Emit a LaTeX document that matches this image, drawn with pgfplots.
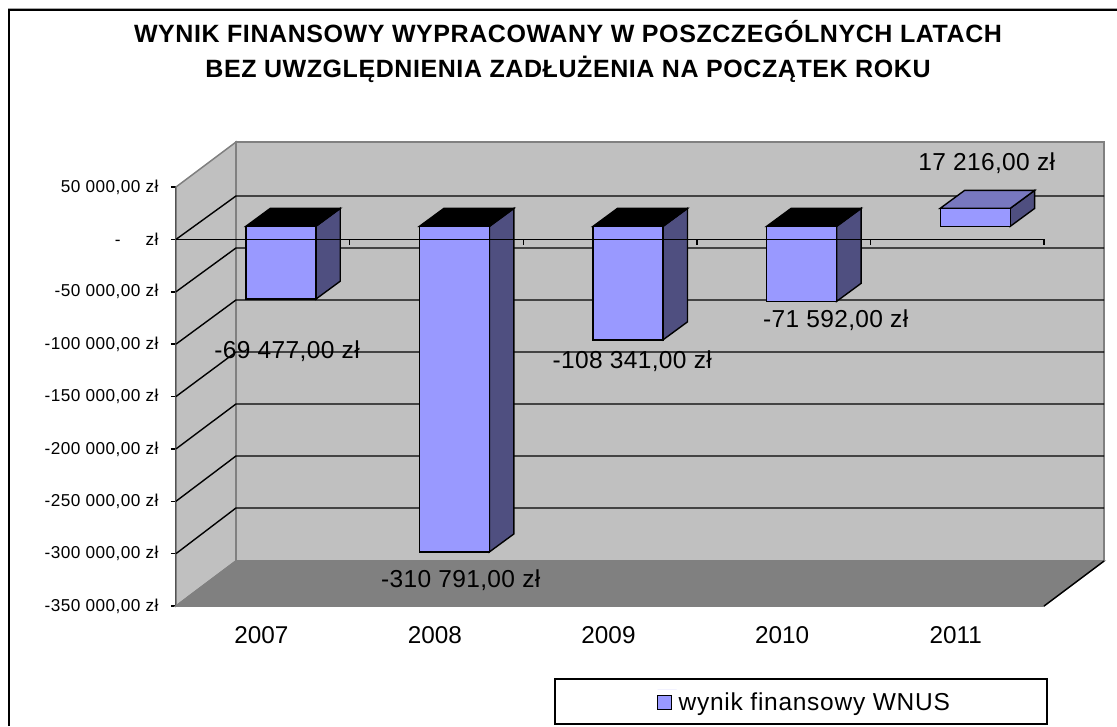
\documentclass[border=0pt]{standalone}
\usepackage{pgfplots}
\pgfplotsset{compat=1.18}
\usepackage{fontspec}
\setmainfont{Liberation Sans}
\newfontfamily\titf[LetterSpace=2.3]{Liberation Sans}
\newfontfamily\labf[LetterSpace=1.5]{Liberation Sans}
\newfontfamily\legf[LetterSpace=3]{Liberation Sans}
\newfontfamily\tickf[LetterSpace=2.5]{Liberation Sans}
\definecolor{wall}{HTML}{C0C0C0}
\definecolor{floorc}{HTML}{808080}
\definecolor{front}{HTML}{9999FF}
\definecolor{sidec}{HTML}{4F4F80}
\definecolor{topc}{HTML}{7878BF}
\newcommand{\fs}[1]{\fontsize{#1}{#1}\selectfont}
\begin{document}
\begin{tikzpicture}[x=1pt,y=1pt]
\path[use as bounding box] (0,0) rectangle (1117,726);
\draw[line width=0.6pt,black!35] (8,717.2) -- (1117,717.2);
\draw[line width=2pt,black] (9,0) -- (9,716) -- (1117,716);
\node[font=\titf\fs{25}\bfseries,anchor=base] at (568,683.5) {WYNIK FINANSOWY WYPRACOWANY W POSZCZEGÓLNYCH LATACH};
\node[font=\titf\fs{25}\bfseries,anchor=base] at (568,648) {BEZ UWZGLĘDNIENIA ZADŁUŻENIA NA POCZĄTEK ROKU};
\draw[line width=1.6pt,black,fill=white] (555,2) rectangle (1047,47);
\begin{axis}[
  at={(176pt,120pt)},anchor=south west,
  scale only axis,width=868pt,height=419pt,
  xmin=-0.5,xmax=4.5,ymin=-350000,ymax=50000,
  clip=false,
  scaled y ticks=false,
  axis x line=bottom,axis y line=left,
  axis line style={-,line width=1.5pt,black},
  xtick={0,1,2,3,4},xticklabels={2007,2008,2009,2010,2011},
  extra x ticks={-0.5,0.5,1.5,2.5,3.5,4.5},
  extra x tick labels={},
  extra x tick style={major tick length=5pt,tick style={line width=1.5pt,black},tick align=outside},
  major x tick style={draw=none},
  xticklabel style={font=\fs{24.3},yshift=-12pt,xshift=-1.5pt},
  ytick={-350000,-300000,-250000,-200000,-150000,-100000,-50000,0,50000},
  yticklabels={{-350 000,00 zł},{-300 000,00 zł},{-250 000,00 zł},{-200 000,00 zł},{-150 000,00 zł},{-100 000,00 zł},{-50 000,00 zł},{-\hspace{25pt}zł},{50 000,00 zł}},
  yticklabel style={font=\tickf\fs{17.2},xshift=-9pt},
  ytick style={line width=1.5pt,black},
  tick align=outside,
  major tick length=5pt,
  legend image code/.code={\path[draw=none] (0,0) -- (19pt,0); \draw[draw=black,fill=front,line width=1.3pt] (0,-20pt) rectangle (14pt,-6pt);},
  legend style={at={(628.5pt,-95.5pt)},anchor=center,draw=none,fill=none,
    font=\legf\fs{24.5},legend cell align=left},
]
% walls and floor
\addplot[forget plot,fill=wall,draw=floorc,line width=1.5pt] coordinates {(-0.1544,92959) (4.8456,92959) (4.8456,-307041) (-0.1544,-307041)} --cycle;
\addplot[forget plot,fill=wall,draw=floorc,line width=1.5pt] coordinates {(-0.5,50000) (-0.1544,92959) (-0.1544,-307041) (-0.5,-350000)} --cycle;
\addplot[forget plot,fill=floorc,draw=floorc,line width=1.5pt] coordinates {(-0.5,-350000) (-0.1544,-307041) (4.8456,-307041) (4.5,-350000)} --cycle;
\addplot[forget plot,black,line width=1.4pt] coordinates {(4.5,-350000) (4.8456,-307041)};
% gridlines
\addplot[forget plot,black,line width=1.4pt] coordinates {(-0.5,0) (-0.1544,41432) (4.8456,41432)};
\addplot[forget plot,black,line width=1.4pt] coordinates {(-0.5,-50000) (-0.1544,-8210) (4.8456,-8210)};
\addplot[forget plot,black,line width=1.4pt] coordinates {(-0.5,-100000) (-0.1544,-57852) (4.8456,-57852)};
\addplot[forget plot,black,line width=1.4pt] coordinates {(-0.5,-150000) (-0.1544,-107494) (4.8456,-107494)};
\addplot[forget plot,black,line width=1.4pt] coordinates {(-0.5,-200000) (-0.1544,-157136) (4.8456,-157136)};
\addplot[forget plot,black,line width=1.4pt] coordinates {(-0.5,-250000) (-0.1544,-206778) (4.8456,-206778)};
\addplot[forget plot,black,line width=1.4pt] coordinates {(-0.5,-300000) (-0.1544,-256420) (4.8456,-256420)};
% bar sides and tops
\addplot[forget plot,fill=sidec,draw=black,line width=1.4pt,xshift=18pt,yshift=13pt] coordinates {(0.2016,0) (0.3427,17184) (0.3427,-52293) (0.2016,-69477)} --cycle;
\addplot[forget plot,fill=black,draw=black,line width=1.4pt,xshift=18pt,yshift=13pt] coordinates {(-0.2016,0) (-0.0605,17184) (0.3427,17184) (0.2016,0)} --cycle;
\addplot[forget plot,fill=sidec,draw=black,line width=1.4pt,xshift=18pt,yshift=13pt] coordinates {(1.2016,0) (1.3427,17184) (1.3427,-293607) (1.2016,-310791)} --cycle;
\addplot[forget plot,fill=black,draw=black,line width=1.4pt,xshift=18pt,yshift=13pt] coordinates {(0.7984,0) (0.9395,17184) (1.3427,17184) (1.2016,0)} --cycle;
\addplot[forget plot,fill=sidec,draw=black,line width=1.4pt,xshift=18pt,yshift=13pt] coordinates {(2.2016,0) (2.3427,17184) (2.3427,-91157) (2.2016,-108341)} --cycle;
\addplot[forget plot,fill=black,draw=black,line width=1.4pt,xshift=18pt,yshift=13pt] coordinates {(1.7984,0) (1.9395,17184) (2.3427,17184) (2.2016,0)} --cycle;
\addplot[forget plot,fill=sidec,draw=black,line width=1.4pt,xshift=18pt,yshift=13pt] coordinates {(3.2016,0) (3.3427,17184) (3.3427,-54408) (3.2016,-71592)} --cycle;
\addplot[forget plot,fill=black,draw=black,line width=1.4pt,xshift=18pt,yshift=13pt] coordinates {(2.7984,0) (2.9395,17184) (3.3427,17184) (3.2016,0)} --cycle;
\addplot[forget plot,fill=sidec,draw=black,line width=1.4pt,xshift=18pt,yshift=13pt] coordinates {(4.2016,0) (4.3427,17184) (4.3427,34400) (4.2016,17216)} --cycle;
\addplot[forget plot,fill=topc,draw=black,line width=1.4pt,xshift=18pt,yshift=13pt] coordinates {(3.7984,17216) (3.9395,34400) (4.3427,34400) (4.2016,17216)} --cycle;
% bar fronts
\addplot[ybar,bar width=70pt,bar shift=0pt,fill=front,draw=black,line width=1.4pt,xshift=18pt,yshift=13pt] coordinates {(0,-69477) (1,-310791) (2,-108341) (3,-71592) (4,17216)};
\addlegendentry{wynik finansowy WNUS}
% zero line with ticks
\addplot[forget plot,black,line width=1.4pt] coordinates {(-0.5,0) (4.5,0)};
\addplot[forget plot,black,line width=1.4pt] coordinates {(0.5,0) (0.5,-5000)};
\addplot[forget plot,black,line width=1.4pt] coordinates {(1.5,0) (1.5,-5000)};
\addplot[forget plot,black,line width=1.4pt] coordinates {(2.5,0) (2.5,-5000)};
\addplot[forget plot,black,line width=1.4pt] coordinates {(3.5,0) (3.5,-5000)};
\addplot[forget plot,black,line width=1.4pt] coordinates {(4.5,0) (4.5,-5000)};
% data labels
\node[font=\labf\fs{24.5}] at (axis cs:0.14,-107000) {-69 477,00 zł};
\node[font=\labf\fs{24.5}] at (axis cs:1.14,-325000) {-310 791,00 zł};
\node[font=\labf\fs{24.5}] at (axis cs:2.128,-116000) {-108 341,00 zł};
\node[font=\labf\fs{24.5}] at (axis cs:3.30,-77000) {-71 592,00 zł};
\node[font=\labf\fs{24.5}] at (axis cs:4.17,73000) {17 216,00 zł};
\end{axis}
\end{tikzpicture}
\end{document}
